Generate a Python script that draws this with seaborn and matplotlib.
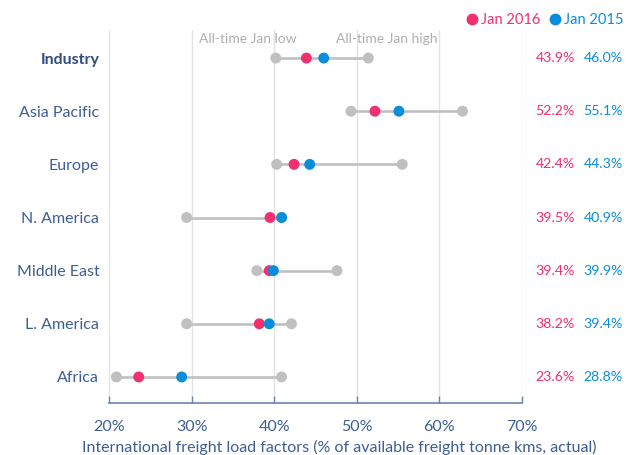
import matplotlib
matplotlib.use("Agg")
import matplotlib.pyplot as plt
from matplotlib.lines import Line2D
import seaborn as sns
import pandas as pd

regions = ["Industry", "Asia Pacific", "Europe", "N. America", "Middle East", "L. America", "Africa"]
jan_2016 = [43.9, 52.2, 42.4, 39.5, 39.4, 38.2, 23.6]
jan_2015 = [46.0, 55.1, 44.3, 40.9, 39.9, 39.4, 28.8]
alltime_low = [40.2, 49.3, 40.3, 29.4, 37.9, 29.4, 20.9]
alltime_high = [51.4, 62.8, 55.5, 40.9, 47.6, 42.1, 40.9]
x_ticks = [20, 30, 40, 50, 60, 70]

PINK = "#f0306f"
BLUE = "#0a8ed9"
GREY = "#c0c0c0"
NAVY = "#3d5e94"

sns.set_theme(style="white")
plt.rcParams["font.family"] = ["Lato", "DejaVu Sans"]

fig = plt.figure(figsize=(6.26, 4.55), dpi=100)
ax = fig.add_axes([0.1741, 0.1143, 0.6597, 0.820])

pos = list(range(len(regions)))
ranges = pd.DataFrame({"region": regions, "pos": pos, "low": alltime_low, "high": alltime_high})
points = pd.concat([
    pd.DataFrame({"pos": pos, "value": alltime_low, "kind": "low"}),
    pd.DataFrame({"pos": pos, "value": alltime_high, "kind": "high"}),
    pd.DataFrame({"pos": pos, "value": jan_2016, "kind": "Jan 2016"}),
    pd.DataFrame({"pos": pos, "value": jan_2015, "kind": "Jan 2015"}),
], ignore_index=True)

for x in x_ticks:
    ax.axvline(x, color="#e3e3e3", lw=1.0, zorder=0)

ax.hlines(ranges["pos"], ranges["low"], ranges["high"], color=GREY, lw=1.9, zorder=1)
sns.scatterplot(data=points, x="value", y="pos", hue="kind",
                palette={"low": GREY, "high": GREY, "Jan 2016": PINK, "Jan 2015": BLUE},
                s=62, linewidth=0, legend=False, ax=ax, zorder=3)

ax.set_xlim(20, 70)
ax.set_ylim(6.49, -0.53)
ax.set_xticks(x_ticks)
ax.set_xticklabels([f"{t}%" for t in x_ticks], color=NAVY, fontsize=11.5)
ax.set_yticks(pos)
ax.set_yticklabels(regions, fontsize=11.5, color=NAVY)
ax.get_yticklabels()[0].set_fontweight("bold")
ax.get_yticklabels()[0].set_color("#2f4d80")
ax.tick_params(axis="y", length=0, pad=7)
ax.tick_params(axis="x", direction="in", length=5, width=1, color="#6a86b0", pad=12, bottom=True)
for side in ["top", "left", "right"]:
    ax.spines[side].set_visible(False)
ax.spines["bottom"].set_color("#6a86b0")
ax.spines["bottom"].set_linewidth(1.2)
ax.set_xlabel("")
ax.set_ylabel("")

for p, v16, v15 in zip(pos, jan_2016, jan_2015):
    ax.text(76.4, p, f"{v16:.1f}%", color=PINK, fontsize=10.2, ha="right", va="center", clip_on=False)
    ax.text(82.2, p, f"{v15:.1f}%", color=BLUE, fontsize=10.2, ha="right", va="center", clip_on=False)

ax.text(36.8, -0.36, "All-time Jan low", color="#b0b0b0", fontsize=10, ha="center", va="center")
ax.text(53.6, -0.36, "All-time Jan high", color="#b0b0b0", fontsize=10, ha="center", va="center")

fig.text(339 / 626, 1 - 447 / 455, "International freight load factors (% of available freight tonne kms, actual)",
         color=NAVY, fontsize=11.5, ha="center", va="center")

handles = [Line2D([], [], marker="o", ls="", color=PINK, markersize=7.5),
           Line2D([], [], marker="o", ls="", color=BLUE, markersize=7.5)]
leg = fig.legend(handles, ["Jan 2016", "Jan 2015"], loc="upper right", bbox_to_anchor=(1.012, 0.993),
                 ncol=2, frameon=False, fontsize=10.5, handletextpad=0.15, columnspacing=0.55,
                 handlelength=0.9, borderaxespad=0.3)
for txt, c in zip(leg.get_texts(), [PINK, BLUE]):
    txt.set_color(c)

fig.savefig("out.png", dpi=100)
